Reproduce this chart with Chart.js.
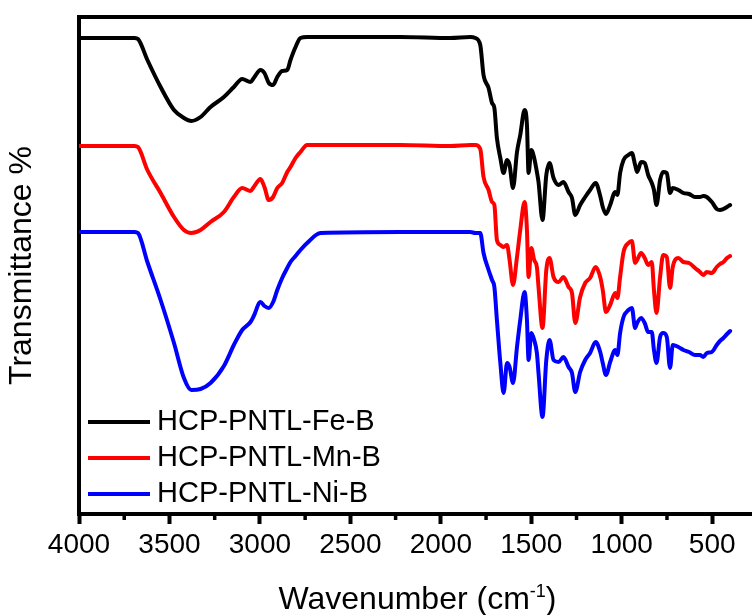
<!DOCTYPE html>
<html><head><meta charset="utf-8">
<script src="https://cdn.jsdelivr.net/npm/chart.js@4"></script>
<style>html,body{margin:0;padding:0;background:#fff;}canvas{display:block;}</style>
</head><body>
<canvas id="c" width="752" height="615"></canvas>
<script>
// Wavenumber (cm-1) sample positions shared by all three spectra
const wavenumbers = [4000, 3825, 3692, 3674, 3622, 3549, 3475, 3420, 3379, 3328, 3273, 3199, 3144, 3098, 3052, 3034, 2997, 2975, 2951, 2927, 2904, 2877, 2849, 2831, 2803, 2776, 2739, 2665, 2224, 1947, 1837,
 1809, 1782, 1764, 1736, 1717, 1704, 1690, 1671, 1653, 1634, 1620, 1601, 1579, 1561, 1537, 1524, 1515, 1500, 1484, 1469, 1460, 1438, 1417, 1399, 1377, 1349, 1322, 1294, 1275, 1257, 1230, 1202, 1175, 1144, 1119, 1105, 1087, 1064, 1036, 1024, 1009, 990, 963, 944, 926, 915, 893, 873, 854, 834, 822, 808, 788, 771, 751, 733, 718, 687, 659, 628, 595, 568, 549, 530, 502, 475, 457, 438, 418, 401];

// Transmittance (arbitrary units, offset spectra)
const feB = [476,476,476,475,454,427,404,396,393,397,407,417,427,435,432,436,444,441,431,429,437,443,444,454,467,476,477,477,477,476,477,
 476,469,439,426,411,406,376,356,341,354,349,326,362,379,404,389,341,364,356,342,332,294,339,351,336,329,332,322,316,299,309,317,324,331,318,307,300,309,322,319,341,354,359,361,349,342,352,351,339,331,324,309,334,342,341,321,326,324,321,320,317,317,318,317,312,305,304,305,307,309];
const mnB = [368,368,368,367,344,321,297,284,281,284,292,302,317,326,323,327,335,327,314,317,326,331,342,347,356,362,369,369,369,368,369,
 369,365,337,324,312,309,274,269,267,269,254,229,257,284,312,284,237,266,254,247,227,186,244,256,237,232,237,227,221,191,217,231,236,247,237,224,202,209,221,216,237,262,271,273,251,254,261,256,249,252,224,201,237,259,257,226,247,256,252,251,246,242,239,242,241,247,250,252,256,258];
const niB = [282,282,282,281,252,214,171,136,124,125,131,148,169,184,192,198,212,208,206,212,224,236,246,252,258,264,271,281,282,282,282,
 281,281,261,244,234,227,194,151,121,151,147,131,167,194,222,194,154,181,174,161,141,97,154,174,154,152,157,147,141,122,142,154,161,172,162,151,139,152,164,159,181,197,204,206,186,191,196,191,182,182,164,151,177,181,177,146,169,167,164,162,159,159,157,161,162,169,173,176,180,183];

const seriesLabels = ['HCP-PNTL-Fe-B', 'HCP-PNTL-Mn-B', 'HCP-PNTL-Ni-B'];
const seriesColors = ['#000000', '#ff0000', '#0000ff'];
const majorTicks = [4000, 3500, 3000, 2500, 2000, 1500, 1000, 500];
const minorTicks = [3750, 3250, 2750, 2250, 1750, 1250, 750];
const xTitleMain = 'Wavenumber (cm';
const xTitleSup = '-1';
const xTitleEnd = ')';
const yTitle = 'Transmittance %';

const FONT = '"Liberation Sans", Arial, Helvetica, sans-serif';
const seriesValues = [feB, mnB, niB];

const extras = {
  id: 'extras',
  afterDraw(chart) {
    const ctx = chart.ctx, area = chart.chartArea, xs = chart.scales.x;
    ctx.save();
    // top frame line
    ctx.strokeStyle = '#000'; ctx.lineWidth = 4; ctx.lineCap = 'butt';
    ctx.beginPath(); ctx.moveTo(area.left - 2, area.top); ctx.lineTo(area.right, area.top); ctx.stroke();
    // minor ticks
    ctx.lineWidth = 3.5;
    minorTicks.forEach(v => {
      const px = xs.getPixelForValue(v);
      ctx.beginPath(); ctx.moveTo(px, area.bottom); ctx.lineTo(px, area.bottom + 6); ctx.stroke();
    });
    // legend
    ctx.font = '29px ' + FONT; ctx.textBaseline = 'middle'; ctx.textAlign = 'left';
    chart.data.datasets.forEach((ds, i) => {
      const y = 422 + i * 36;
      ctx.strokeStyle = ds.borderColor; ctx.lineWidth = 4;
      ctx.beginPath(); ctx.moveTo(88, y); ctx.lineTo(150, y); ctx.stroke();
      ctx.fillStyle = '#000';
      ctx.fillText(ds.label, 157, y);
    });
    // x title with superscript
    const big = '32px ' + FONT, small = '18px ' + FONT;
    ctx.font = big; const w1 = ctx.measureText(xTitleMain).width; const w3 = ctx.measureText(xTitleEnd).width;
    ctx.font = small; const w2 = ctx.measureText(xTitleSup).width;
    const total = w1 + w2 + w3;
    let x0 = (area.left + area.right) / 2 - total / 2 + 2;
    const base = 609;
    ctx.textBaseline = 'alphabetic'; ctx.fillStyle = '#000';
    ctx.font = big; ctx.fillText(xTitleMain, x0, base);
    ctx.font = small; ctx.fillText(xTitleSup, x0 + w1, base - 12);
    ctx.font = big; ctx.fillText(xTitleEnd, x0 + w1 + w2, base);
    ctx.restore();
  }
};

new Chart(document.getElementById('c'), {
  type: 'line',
  data: {
    datasets: seriesValues.map((vals, i) => ({
      label: seriesLabels[i],
      data: wavenumbers.map((w, j) => ({ x: w, y: vals[j] })),
      borderColor: seriesColors[i],
      backgroundColor: seriesColors[i],
      borderWidth: 4,
      pointRadius: 0,
      fill: false,
      cubicInterpolationMode: 'monotone',
      borderJoinStyle: 'round',
      borderCapStyle: 'round'
    }))
  },
  options: {
    responsive: false,
    devicePixelRatio: 1,
    animation: false,
    layout: { padding: { top: 17, right: 0, bottom: 0, left: 0 } },
    plugins: { legend: { display: false }, tooltip: { enabled: false }, title: { display: false } },
    scales: {
      x: {
        type: 'linear', reverse: true, min: 280, max: 4000,
        afterBuildTicks: s => { s.ticks = majorTicks.map(v => ({ value: v })); },
        afterFit: s => { s.height = 101; },
        grid: { display: true, drawOnChartArea: false, drawTicks: true, tickLength: 10, tickWidth: 4, tickColor: '#000' },
        border: { display: true, color: '#000', width: 4 },
        ticks: { color: '#000', font: { family: FONT, size: 28 }, padding: 4, maxRotation: 0, autoSkip: false, callback: v => String(v) }
      },
      y: {
        min: 0, max: 497,
        afterFit: s => { s.width = 79; },
        grid: { display: false },
        border: { display: true, color: '#000', width: 4 },
        ticks: { display: false },
        title: { display: true, text: yTitle, color: '#000', font: { family: FONT, size: 32 }, padding: { top: 3, bottom: 0 } }
      }
    }
  },
  plugins: [extras]
});
</script>
</body></html>
